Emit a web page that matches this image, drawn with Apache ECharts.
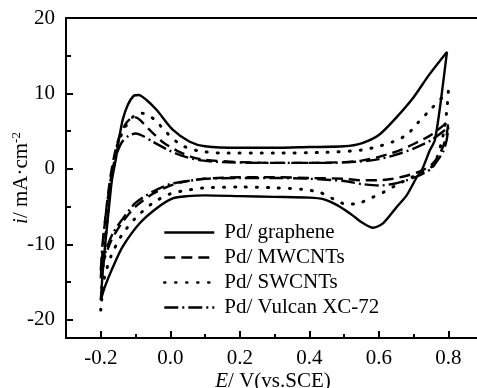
<!DOCTYPE html>
<html>
<head>
<meta charset="utf-8">
<script src="https://cdn.jsdelivr.net/npm/echarts@6/dist/echarts.min.js"></script>
<style>
  html, body { margin: 0; padding: 0; background: #fff; }
  #cv-chart { width: 477px; height: 388px; }
</style>
</head>
<body>
<div id="cv-chart"></div>
<script>
// tick positions
const xMajorTicks = [-0.2, 0, 0.2, 0.4, 0.6, 0.8]
const xMinorTicks = [-0.1, 0.1, 0.3, 0.5, 0.7]
const yMajorTicks = [-20, -10, 0, 10, 20]
const yMinorTicks = [-15, -5, 5, 15]

const seriesNames = ['Pd/ graphene', 'Pd/ MWCNTs', 'Pd/ SWCNTs', 'Pd/ Vulcan XC-72']

// [E (V vs SCE), i (mA/cm2)], anodic sweep then cathodic sweep
const graphene = [
  [-0.2, -17.4], [-0.194, -13.4], [-0.186, -9.4], [-0.177, -5.4], [-0.168, -1.5], [-0.157, 1.2],
  [-0.148, 3.8], [-0.137, 6.5], [-0.122, 8.5], [-0.105, 9.7], [-0.091, 9.8], [-0.07, 9.2],
  [-0.039, 7.8], [0.007, 5.2], [0.056, 3.6], [0.1, 3.0], [0.2, 2.8], [0.3, 2.8], [0.4, 2.9],
  [0.5, 3.0], [0.55, 3.4], [0.6, 4.5], [0.65, 6.8], [0.7, 9.5], [0.745, 12.5], [0.796, 15.5],
  [0.776, 8.2], [0.761, 3.8], [0.747, 2.5], [0.724, -0.1], [0.709, -1.1], [0.68, -3.5],
  [0.652, -5.0], [0.612, -7.2], [0.583, -7.8], [0.555, -7.2], [0.52, -6.0], [0.48, -4.8],
  [0.44, -4.0], [0.4, -3.8], [0.3, -3.7], [0.2, -3.6], [0.1, -3.5], [0.05, -3.6], [0.007, -3.9],
  [-0.039, -5.2], [-0.088, -7.2], [-0.137, -10.3], [-0.165, -13.0], [-0.188, -15.6], [-0.2, -17.4]
]
const mwcnts = [
  [-0.2, -14.5], [-0.195, -11], [-0.19, -8], [-0.182, -4.5], [-0.172, -1], [-0.16, 2],
  [-0.145, 4.5], [-0.125, 6.2], [-0.105, 6.9], [-0.09, 6.6], [-0.06, 5.2], [-0.02, 3.5],
  [0.02, 2.4], [0.06, 1.6], [0.1, 1.2], [0.2, 0.9], [0.3, 0.8], [0.4, 0.8], [0.5, 0.9],
  [0.55, 1.1], [0.6, 1.6], [0.65, 2.3], [0.7, 3.3], [0.75, 4.5], [0.8, 6.3],
  [0.795, 4.5], [0.785, 3.0], [0.77, 1.6], [0.75, 0.5], [0.72, -0.3], [0.68, -0.9],
  [0.64, -1.3], [0.6, -1.5], [0.55, -1.5], [0.5, -1.3], [0.4, -1.2], [0.3, -1.1], [0.2, -1.1],
  [0.1, -1.3], [0.05, -1.6], [0.0, -2.2], [-0.05, -3.3], [-0.1, -5.0], [-0.14, -7.2],
  [-0.17, -9.5], [-0.19, -12], [-0.2, -14.5]
]
const swcnts = [
  [-0.2, -18.7], [-0.195, -14], [-0.188, -10], [-0.18, -6], [-0.172, -2], [-0.163, 1],
  [-0.15, 3.5], [-0.13, 5.5], [-0.11, 6.8], [-0.085, 7.4], [-0.065, 7.2], [-0.04, 6.3],
  [-0.01, 4.8], [0.03, 3.2], [0.08, 2.4], [0.15, 2.1], [0.3, 2.1], [0.45, 2.2], [0.55, 2.5],
  [0.6, 3.0], [0.64, 3.6], [0.68, 4.5], [0.712, 6.1], [0.747, 7.8], [0.8, 10.3],
  [0.797, 8.5], [0.793, 6.8], [0.785, 4.5], [0.768, 1.6], [0.75, 0.2], [0.72, -0.6],
  [0.69, -1.2], [0.652, -2.1], [0.617, -3.0], [0.58, -3.8], [0.545, -4.5], [0.508, -4.7],
  [0.47, -4.0], [0.43, -3.1], [0.38, -2.7], [0.3, -2.5], [0.2, -2.4], [0.1, -2.5], [0.05, -2.8],
  [0.0, -3.3], [-0.05, -4.5], [-0.1, -6.5], [-0.14, -8.8], [-0.17, -11.5], [-0.19, -14.5], [-0.2, -18.7]
]
const vulcan = [
  [-0.2, -13.5], [-0.195, -10], [-0.188, -7], [-0.18, -4], [-0.17, -1], [-0.158, 1.5],
  [-0.14, 3.5], [-0.12, 4.4], [-0.1, 4.7], [-0.08, 4.4], [-0.05, 3.6], [-0.01, 2.6],
  [0.03, 1.8], [0.08, 1.2], [0.15, 0.9], [0.3, 0.8], [0.45, 0.8], [0.55, 1.0], [0.6, 1.3],
  [0.65, 1.9], [0.7, 2.7], [0.75, 3.8], [0.8, 5.5],
  [0.795, 3.8], [0.785, 2.3], [0.77, 1.2], [0.75, 0.0], [0.72, -0.8], [0.68, -1.5],
  [0.64, -2.0], [0.6, -2.2], [0.55, -2.0], [0.5, -1.6], [0.4, -1.3], [0.3, -1.2], [0.2, -1.2],
  [0.1, -1.3], [0.05, -1.6], [0.0, -2.0], [-0.05, -3.0], [-0.1, -4.5], [-0.14, -6.8],
  [-0.165, -8.5], [-0.185, -10.8], [-0.2, -13.5]
]

const font = 'Liberation Serif'
const fs = 21
const curves = [graphene, mwcnts, swcnts, vulcan]
const dashes = ['solid', [11, 6], [1, 10], [14, 4, 2, 4]]

const chart = echarts.init(document.getElementById('cv-chart'))
const option = {
  animation: false,
  grid: { left: 66, top: 18, right: -3, bottom: 50, outerBoundsMode: 'none', containLabel: false },
  legend: {
    orient: 'vertical',
    left: 158,
    top: 217,
    itemWidth: 50,
    itemHeight: 14,
    itemGap: 4,
    data: seriesNames,
    // hide the marker the line legend adds, keep only the line
    itemStyle: { color: 'rgba(0,0,0,0)', borderColor: 'rgba(0,0,0,0)', borderWidth: 0 },
    lineStyle: { width: 2.6 },
    textStyle: { fontFamily: font, fontSize: fs, color: '#000', padding: [0, 0, 0, 5] }
  },
  xAxis: [
    {
      type: 'value', min: -0.3, max: 0.891,
      name: '{it|E}/ V(vs.SCE)', nameLocation: 'middle', nameGap: 33, nameMoveOverlap: false,
      nameTextStyle: {
        fontFamily: font, fontSize: fs, color: '#000',
        rich: { it: { fontFamily: font, fontSize: fs, fontStyle: 'italic', color: '#000' } }
      },
      axisLine: { onZero: false, lineStyle: { color: '#000', width: 2 } },
      axisTick: { inside: true, length: 7, customValues: xMajorTicks, lineStyle: { color: '#000', width: 2 } },
      axisLabel: {
        customValues: xMajorTicks, margin: 10,
        fontFamily: font, fontSize: fs, color: '#000',
        formatter: (v) => v.toFixed(1)
      },
      splitLine: { show: false }
    },
    {
      type: 'value', min: -0.3, max: 0.891, position: 'bottom',
      axisLine: { show: false, onZero: false },
      axisTick: { inside: true, length: 4, customValues: xMinorTicks, lineStyle: { color: '#000', width: 2 } },
      axisLabel: { show: false },
      splitLine: { show: false }
    },
    {
      type: 'value', min: -0.3, max: 0.891, position: 'top',
      axisLine: { onZero: false, lineStyle: { color: '#000', width: 2 } },
      axisTick: { show: false },
      axisLabel: { show: false },
      splitLine: { show: false }
    }
  ],
  yAxis: [
    {
      type: 'value', min: -22.4, max: 20,
      name: '{it|i}/ mA·cm{sup|-2}', nameLocation: 'middle', nameGap: 34, nameRotate: 90, nameMoveOverlap: false,
      nameTextStyle: {
        fontFamily: font, fontSize: fs, color: '#000',
        rich: {
          it: { fontFamily: font, fontSize: fs, fontStyle: 'italic', color: '#000' },
          sup: { fontFamily: font, fontSize: 13, color: '#000', verticalAlign: 'top', padding: [0, 0, 9, 0] }
        }
      },
      axisLine: { onZero: false, lineStyle: { color: '#000', width: 2 } },
      axisTick: { inside: true, length: 7, customValues: yMajorTicks, lineStyle: { color: '#000', width: 2 } },
      axisLabel: { customValues: yMajorTicks, margin: 11, fontFamily: font, fontSize: fs, color: '#000' },
      splitLine: { show: false }
    },
    {
      type: 'value', min: -22.4, max: 20, position: 'left',
      axisLine: { show: false, onZero: false },
      axisTick: { inside: true, length: 5, customValues: yMinorTicks, lineStyle: { color: '#000', width: 2 } },
      axisLabel: { show: false },
      splitLine: { show: false }
    }
  ],
  series: seriesNames.map((name, k) => ({
    name: name,
    type: 'line',
    xAxisIndex: 0,
    yAxisIndex: 0,
    symbol: 'none',
    smooth: 0.25,
    data: curves[k],
    lineStyle: { color: '#000', width: k === 2 ? 3 : 2.4, type: dashes[k], cap: k === 2 ? 'round' : 'butt' },
    itemStyle: { color: '#000' }
  }))
}
option && chart.setOption(option)
</script>
</body>
</html>
